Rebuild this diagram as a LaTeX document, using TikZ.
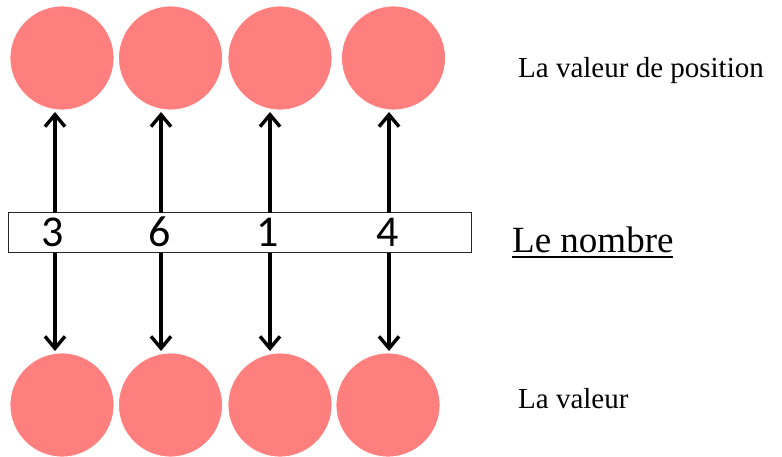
\documentclass[tikz,border=0pt]{standalone}
\usepackage{fontspec}
\setmainfont{Liberation Serif}
\newfontfamily\digitfont{Carlito}
\usetikzlibrary{arrows.meta}
\definecolor{salmon}{RGB}{255,127,127}
\begin{document}
\begin{tikzpicture}[x=1pt,y=-1pt,
  disc/.style={circle,fill=salmon,draw=white,line width=0.8pt,minimum size=104pt,inner sep=0pt},
  digit/.style={font=\digitfont\fontsize{44}{44}\selectfont,inner sep=0pt},
  arr/.style={line width=3.4pt,-{Straight Barb[length=12pt,width=20pt]}},
  lbl/.style={anchor=base west,inner sep=0pt}]
\useasboundingbox (0,0) rectangle (782,457);
% top circles
\node[disc] (t1) at (62,58) {};
\node[disc] (t2) at (170.5,58) {};
\node[disc] (t3) at (280,58) {};
\node[disc] (t4) at (393.5,58) {};
% bottom circles
\node[disc] (b1) at (62,405) {};
\node[disc] (b2) at (170.5,405) {};
\node[disc] (b3) at (280,405) {};
\node[disc] (b4) at (388,405) {};
% number box
\node[draw=black!85,line width=1pt,minimum width=463pt,minimum height=40pt,inner sep=0pt] (box) at (239.5,233) {};
\node[digit] (n1) at (53,232) {3};
\node[digit] (n2) at (160,232) {6};
\node[digit] (n3) at (268,232) {1};
\node[digit] (n4) at (388,232) {4};
% arrow anchors
\foreach \i/\x in {1/55,2/161,3/270,4/389}{
  \coordinate (u\i) at (\x,213);
  \coordinate (d\i) at (\x,253);
  \coordinate (ut\i) at (\x,112);
  \coordinate (dt\i) at (\x,351);
  \draw[arr] (u\i) -- (ut\i);
  \draw[arr] (d\i) -- (dt\i);
}
% labels
\node[lbl,font=\fontsize{29}{29}\selectfont] (lp) at (518,78) {La valeur de position};
\node[lbl,font=\fontsize{37}{37}\selectfont] (ln) at (512,253) {Le nombre};
\draw[line width=2pt] (ln.base west) ++(0,4.5) coordinate (ula) -- ++(161,0) coordinate (ulb);
\node[lbl,font=\fontsize{29}{29}\selectfont] (lv) at (518,408) {La valeur};
\end{tikzpicture}
\end{document}
